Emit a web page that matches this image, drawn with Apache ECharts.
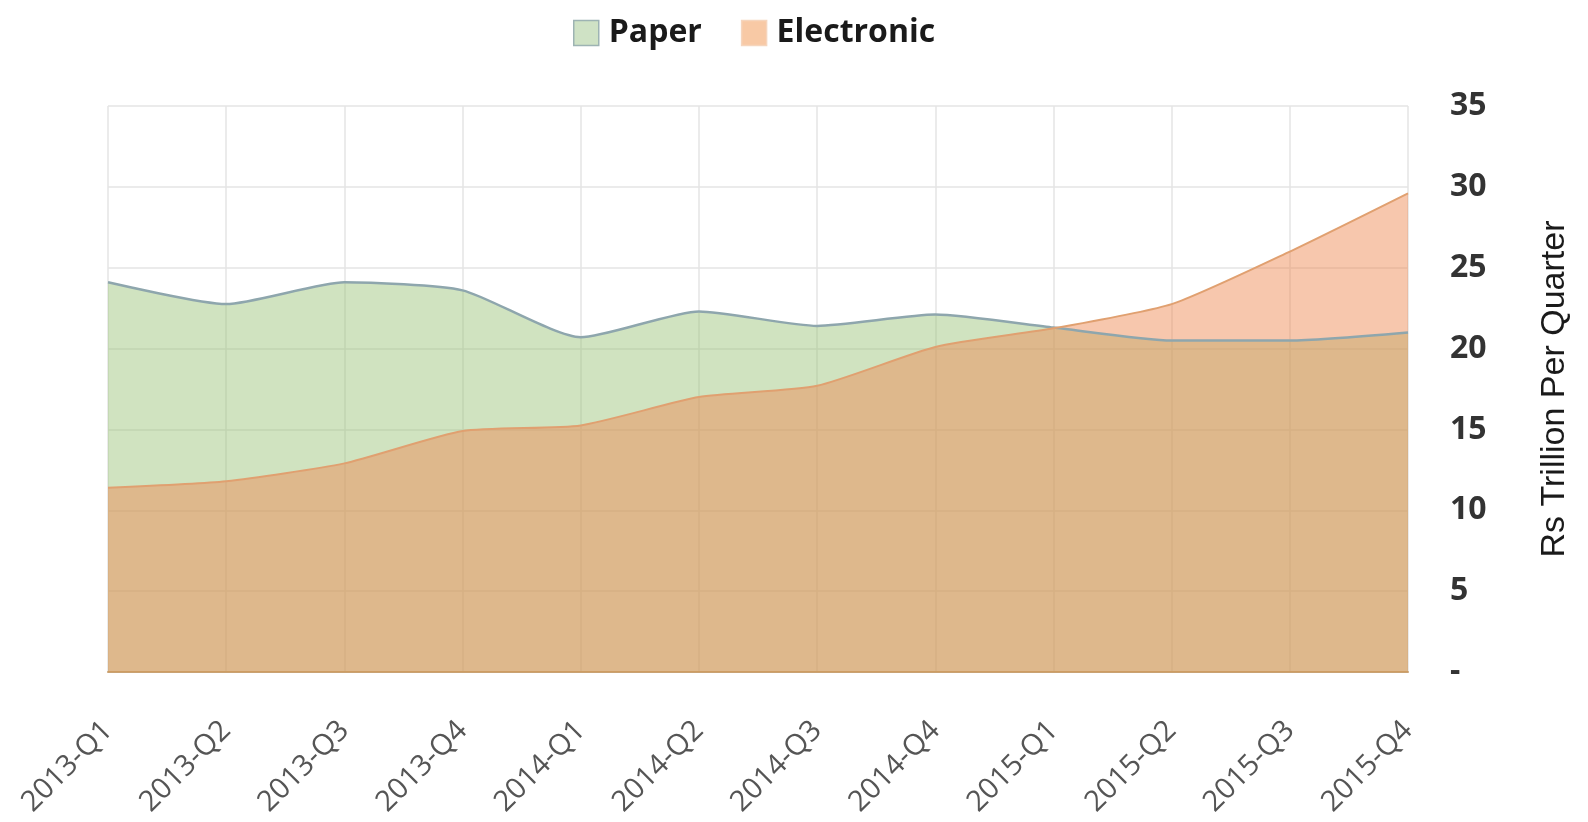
<!DOCTYPE html>
<html>
<head>
<meta charset="utf-8">
<script src="https://cdn.jsdelivr.net/npm/echarts@6/dist/echarts.min.js"></script>
<style>
html,body{margin:0;padding:0;background:#fff;}
#c{width:1588px;height:822px;}
</style>
</head>
<body>
<div id="c"></div>
<script>
const categories = ['2013-Q1','2013-Q2','2013-Q3','2013-Q4','2014-Q1','2014-Q2','2014-Q3','2014-Q4','2015-Q1','2015-Q2','2015-Q3','2015-Q4'];
const paper = [24.1, 22.75, 24.1, 23.6, 20.7, 22.3, 21.4, 22.1, 21.3, 20.5, 20.5, 21.0];
const electronic = [11.4, 11.8, 12.9, 14.9, 15.25, 17.0, 17.7, 20.1, 21.25, 22.75, 26.0, 29.6];
const yTicks = {min: 0, max: 35, interval: 5};

const chart = echarts.init(document.getElementById('c'));
chart.setOption({
  backgroundColor: '#ffffff',
  animation: false,
  legend: {
    left: 568, top: 12,
    itemWidth: 25, itemHeight: 25, itemGap: 39,
    textStyle: {fontFamily: 'Open Sans', fontWeight: 'bold', fontSize: 32, color: '#1a1a1a', padding: [0,0,0,5]},
    data: [
      {name: 'Paper', icon: 'rect', itemStyle: {color: '#cfe2c5', borderColor: '#9db3b3', borderWidth: 1.5}},
      {name: 'Electronic', icon: 'rect', itemStyle: {color: '#f8c9a5', borderColor: '#f5d5bd', borderWidth: 1.5}}
    ]
  },
  grid: {left: 108, right: 180, top: 106, bottom: 150},
  xAxis: {
    type: 'category',
    data: categories,
    boundaryGap: false,
    axisTick: {show: false},
    axisLine: {show: true, lineStyle: {color: '#c9a273', width: 2}},
    splitLine: {show: true, lineStyle: {color: '#e4e4e4', width: 1.5}},
    axisLabel: {rotate: 45, margin: 54, fontFamily: 'Open Sans', fontSize: 29, color: '#555555'}
  },
  yAxis: {
    type: 'value',
    position: 'right',
    min: yTicks.min, max: yTicks.max, interval: yTicks.interval,
    axisLine: {show: false},
    axisTick: {show: false},
    splitLine: {show: true, lineStyle: {color: '#e4e4e4', width: 1.5}},
    axisLabel: {
      margin: 42, fontFamily: 'Open Sans', fontWeight: 'bold', fontSize: 32, color: '#333333',
      formatter: v => v === 0 ? '-' : String(v)
    },
    name: 'Rs Trillion Per Quarter',
    nameLocation: 'middle',
    nameRotate: 90,
    nameGap: 130,
    nameTextStyle: {fontFamily: 'Liberation Sans', fontSize: 34, color: '#1a1a1a'}
  },
  series: [
    {
      name: 'Paper', type: 'line', data: paper, smooth: 0.2,
      symbol: 'none',
      lineStyle: {color: '#8ea6ad', width: 2.5},
      itemStyle: {color: '#cfe2c5'},
      areaStyle: {color: 'rgba(150,193,115,0.45)', opacity: 1}
    },
    {
      name: 'Electronic', type: 'line', data: electronic, smooth: 0.2,
      symbol: 'none',
      lineStyle: {color: '#e0a070', width: 2},
      itemStyle: {color: '#f8c9a5'},
      areaStyle: {color: 'rgba(238,137,80,0.47)', opacity: 1}
    }
  ]
});
</script>
</body>
</html>
